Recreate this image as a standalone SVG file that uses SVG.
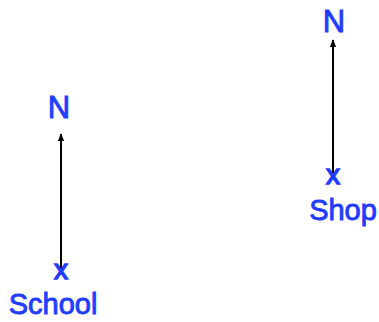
<svg xmlns="http://www.w3.org/2000/svg" width="379" height="322" viewBox="0 0 379 322">
<style>
.t{font-family:"Liberation Sans",Arial,sans-serif;fill:#1f3cff;stroke:#1f3cff;stroke-width:0.9;text-anchor:middle}
.n{font-size:31px}
.x{font-size:28px;stroke-width:1.4}
.l{font-size:29px}
.c{stroke:#000;stroke-width:2;fill:none}
</style>
<defs>
<marker id="ah" viewBox="0 0 10 10" refX="9" refY="5" markerWidth="4" markerHeight="4" orient="auto" markerUnits="strokeWidth">
<path d="M0,1 L10,5 L0,9 Z" fill="#000"/>
</marker>
</defs>
<rect width="379" height="322" fill="#fff"/>
<g id="connectors">
<line class="c" x1="61" y1="268" x2="61" y2="134" marker-end="url(#ah)"/>
<line class="c" x1="333" y1="173" x2="333" y2="40" marker-end="url(#ah)"/>
</g>
<g id="school">
<text class="t x" x="61" y="279">x</text>
<text class="t l" x="53" y="314">School</text>
</g>
<g id="north-school">
<text class="t n" x="59" y="118">N</text>
</g>
<g id="shop">
<text class="t x" x="333" y="184">x</text>
<text class="t l" x="343" y="220">Shop</text>
</g>
<g id="north-shop">
<text class="t n" x="334" y="32">N</text>
</g>
</svg>
